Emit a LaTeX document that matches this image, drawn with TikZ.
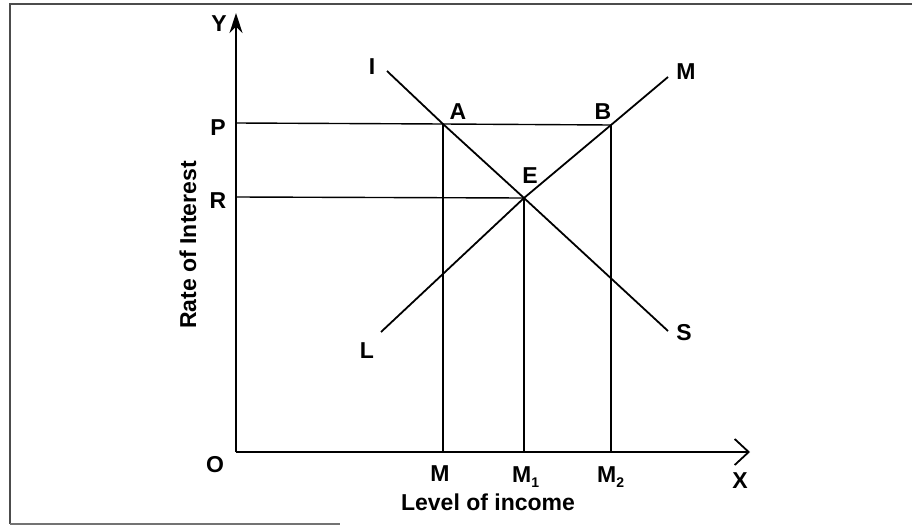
\documentclass[tikz,border=0pt]{standalone}
\usepackage{fontspec}
\setmainfont{Liberation Sans}
\usetikzlibrary{arrows.meta}
\newcommand{\lowsub}[1]{{\fontsize{14}{14}\selectfont\raisebox{-5pt}{#1}}}
\begin{document}
\begin{tikzpicture}[x=1pt,y=-1pt,
  lbl/.style={inner sep=0pt,font=\fontsize{23}{23}\selectfont\bfseries},
  curve/.style={line width=1.8pt},
  guide/.style={line width=1.4pt},
  axis/.style={line width=1.7pt}]
\useasboundingbox (0,0) rectangle (912,527);
% frame
\draw[line width=1.8pt,black!70] (912,4) -- (10,4) -- (10,524);
\draw[line width=1.5pt,black!55] (10,524) -- (340,524);
% key points
\coordinate (O) at (236,452);
\coordinate (Ytip) at (236,13);
\coordinate (Xtip) at (750,452);
\coordinate (A) at (443,124);
\coordinate (B) at (611,125);
\coordinate (E) at (524,198);
\coordinate (Iend) at (387,71);
\coordinate (Send) at (668,331);
\coordinate (Lend) at (381,332);
\coordinate (Mend) at (668,77);
\coordinate (Pax) at (236,123);
\coordinate (Rax) at (236,197);
\coordinate (Mx) at (443,452);
\coordinate (M1x) at (524,452);
\coordinate (M2x) at (611,452);
% axes
\draw[axis,-{Stealth[length=20pt,width=13pt]}] (O) -- (Ytip);
\draw[axis,-{Straight Barb[length=14pt,width=26pt,line width=1.8pt]}] (O) -- (Xtip);
% guides
\draw[guide] (Pax) -- (A) -- (B);
\draw[guide] (Rax) -- (E);
\draw[guide] (A) -- (Mx);
\draw[guide] (E) -- (M1x);
\draw[guide] (B) -- (M2x);
% curves
\draw[curve] (Iend) -- (A) -- (E) -- (Send);
\draw[curve] (Lend) -- (E) -- (B) -- (Mend);
% labels
\node[lbl] (lY) at (219,24) {Y};
\node[lbl] (lI) at (372,67) {I};
\node[lbl] (lA) at (458,112) {A};
\node[lbl] (lB) at (603,112) {B};
\node[lbl] (lE) at (530,176) {E};
\node[lbl] (lM) at (686,72) {M};
\node[lbl] (lP) at (218,128) {P};
\node[lbl] (lR) at (218,201) {R};
\node[lbl] (lL) at (367,351) {L};
\node[lbl] (lS) at (684,333) {S};
\node[lbl] (lO) at (215,465) {O};
\node[lbl] (lMb) at (440,474) {M};
\node[lbl,anchor=base west] (lM1) at (512,482) {M\lowsub{1}};
\node[lbl,anchor=base west] (lM2) at (597,482) {M\lowsub{2}};
\node[lbl] (lX) at (740,481) {X};
\node[lbl] (lXlab) at (488,502) {Level of income};
\node[lbl,rotate=90] (lYlab) at (188,245) {Rate of Interest};
\end{tikzpicture}
\end{document}
